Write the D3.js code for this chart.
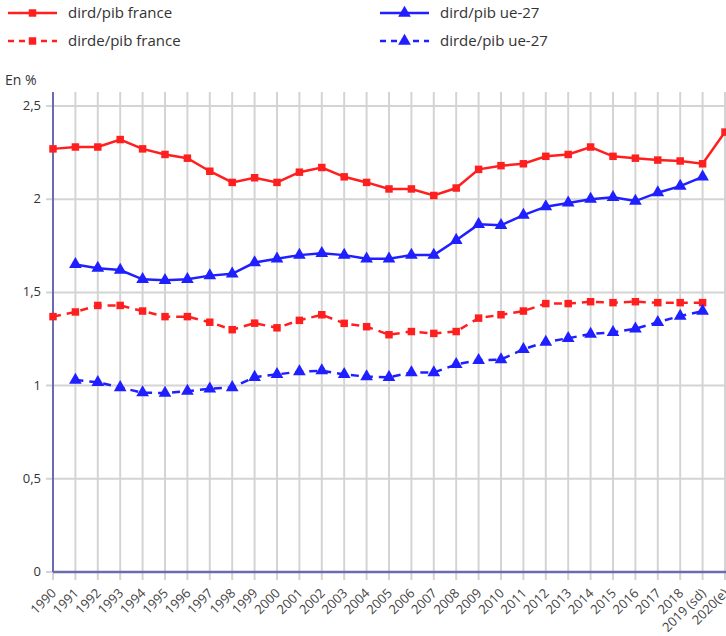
<!DOCTYPE html>
<html><head><meta charset="utf-8">
<script src="https://cdn.jsdelivr.net/npm/d3@7"></script>
<style>body{margin:0;background:#fff}svg{display:block;font-family:"Open Sans",sans-serif}</style>
</head><body><svg id="c" width="726" height="636"></svg>
<script>
const years = ["1990","1991","1992","1993","1994","1995","1996","1997","1998","1999","2000","2001","2002","2003","2004","2005","2006","2007","2008","2009","2010","2011","2012","2013","2014","2015","2016","2017","2018","2019 (sd)","2020(e)"];
const dirdFrance = [2.27,2.28,2.28,2.32,2.27,2.24,2.22,2.15,2.09,2.115,2.09,2.145,2.17,2.12,2.09,2.055,2.055,2.02,2.06,2.16,2.18,2.19,2.23,2.24,2.28,2.23,2.22,2.21,2.205,2.19,2.36];
const dirdUe = [null,1.65,1.63,1.62,1.57,1.565,1.57,1.59,1.60,1.66,1.68,1.70,1.71,1.70,1.68,1.68,1.70,1.70,1.78,1.865,1.86,1.915,1.96,1.98,2.00,2.01,1.99,2.035,2.07,2.12,null];
const dirdeFrance = [1.37,1.395,1.43,1.43,1.40,1.37,1.37,1.34,1.30,1.335,1.31,1.35,1.38,1.334,1.316,1.273,1.29,1.28,1.29,1.362,1.38,1.40,1.44,1.44,1.45,1.445,1.45,1.445,1.445,1.445,null];
const dirdeUe = [null,1.03,1.018,0.99,0.962,0.96,0.97,0.983,0.99,1.045,1.06,1.075,1.08,1.06,1.048,1.045,1.07,1.07,1.114,1.136,1.14,1.195,1.234,1.254,1.277,1.286,1.305,1.34,1.373,1.40,null];
const yTicks = [0,0.5,1,1.5,2,2.5];
const yTickLabels = ["0","0,5","1","1,5","2","2,5"];
const seriesNames = ["dird/pib france","dirde/pib france","dird/pib ue-27","dirde/pib ue-27"];

const series = [
  {name:seriesNames[0], values:dirdFrance, color:"#ff1f1f", dash:null, marker:"square"},
  {name:seriesNames[1], values:dirdeFrance, color:"#ff1f1f", dash:"8,6", marker:"square"},
  {name:seriesNames[2], values:dirdUe, color:"#1f1fff", dash:null, marker:"triangle"},
  {name:seriesNames[3], values:dirdeUe, color:"#1f1fff", dash:"8,6", marker:"triangle"}
];

const svg = d3.select("#c");
const x = d3.scalePoint().domain(years).range([53, 725]);
const y = d3.scaleLinear().domain([0, 2.5]).range([572, 106]);
const gridTop = 92, gridBottom = 580;

svg.append("g").selectAll("line").data(yTicks).join("line")
  .attr("x1", 46).attr("x2", 726).attr("y1", d => y(d)).attr("y2", d => y(d))
  .attr("stroke", "#d4d4d4").attr("stroke-width", 2);
svg.append("g").selectAll("line").data(years).join("line")
  .attr("x1", d => x(d)).attr("x2", d => x(d)).attr("y1", gridTop).attr("y2", gridBottom)
  .attr("stroke", "#d4d4d4").attr("stroke-width", 2);

svg.append("line").attr("x1", 53).attr("x2", 53).attr("y1", gridTop).attr("y2", 572)
  .attr("stroke", "#6b6bb0").attr("stroke-width", 2);
svg.append("line").attr("x1", 53).attr("x2", 726).attr("y1", 572).attr("y2", 572)
  .attr("stroke", "#6b6bb0").attr("stroke-width", 2.5);

svg.append("g").selectAll("text").data(yTicks).join("text")
  .attr("x", 41).attr("y", d => y(d) + 4).attr("text-anchor", "end")
  .attr("font-size", 13).attr("fill", "#333").text((d, i) => yTickLabels[i]);
svg.append("text").attr("x", 5).attr("y", 85).attr("font-size", 14).attr("fill", "#333").text("En %");

svg.append("g").selectAll("text").data(years).join("text")
  .attr("transform", d => `translate(${x(d) + 4},${594}) rotate(-45)`)
  .attr("text-anchor", "end").attr("font-size", 13).attr("fill", "#444").text(d => d);

const line = d3.line().defined(d => d.v != null).x(d => x(d.k)).y(d => y(d.v));
const tri = d3.symbol().type(d3.symbolTriangle).size(70);
const sq = d3.symbol().type(d3.symbolSquare).size(56);
series.forEach(s => {
  const pts = years.map((k, i) => ({k, v: s.values[i]}));
  svg.append("path").datum(pts).attr("d", line).attr("fill", "none")
    .attr("stroke", s.color).attr("stroke-width", 2.5)
    .attr("stroke-dasharray", s.dash);
  svg.append("g").selectAll("path").data(pts.filter(p => p.v != null)).join("path")
    .attr("transform", p => `translate(${x(p.k)},${y(p.v)})`)
    .attr("d", s.marker === "square" ? sq : tri).attr("fill", s.color);
});

const legPos = [[8, 13], [8, 41], [380, 13], [380, 41]];
series.forEach((s, i) => {
  const [lx, ly] = legPos[i];
  const g = svg.append("g").attr("transform", `translate(${lx},${ly})`);
  g.append("line").attr("x1", 0).attr("x2", 49).attr("y1", 0).attr("y2", 0)
    .attr("stroke", s.color).attr("stroke-width", 2.5).attr("stroke-dasharray", s.dash ? "6,5" : null);
  g.append("path").attr("transform", "translate(24.5,0)").attr("d", s.marker === "square" ? sq : tri).attr("fill", s.color);
  g.append("text").attr("x", 60).attr("y", 5).attr("font-size", 15).attr("fill", "#333").text(s.name);
});
</script></body></html>
